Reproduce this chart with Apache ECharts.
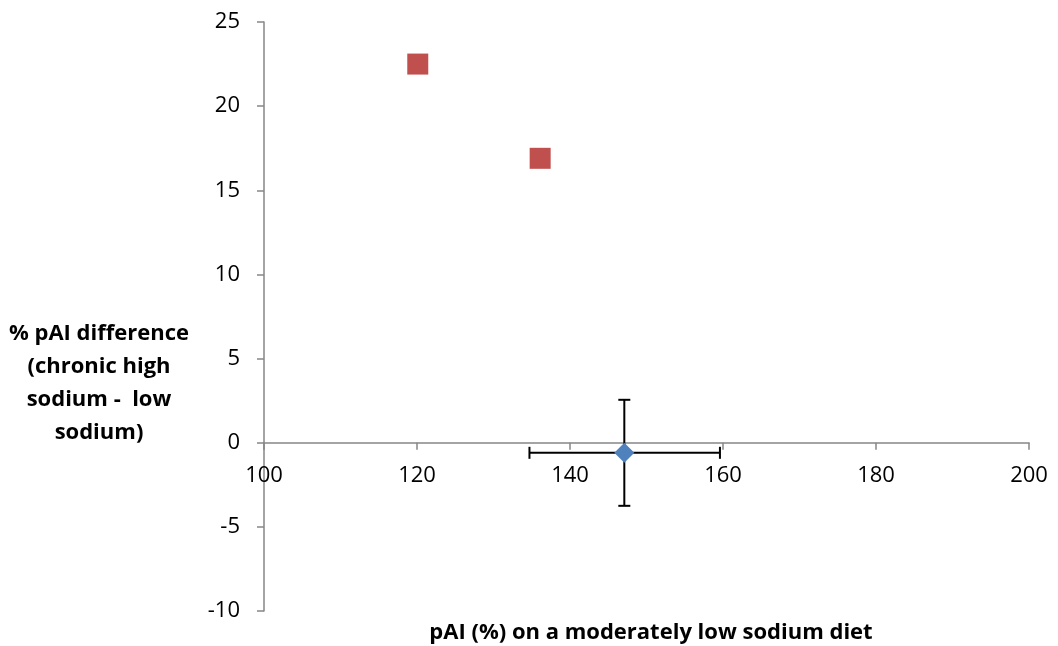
<!DOCTYPE html>
<html>
<head>
<meta charset="utf-8">
<script src="https://cdn.jsdelivr.net/npm/echarts@6/dist/echarts.min.js"></script>
<style>html,body{margin:0;padding:0;background:#fff;}#c{width:1058px;height:646px;}</style>
</head>
<body>
<div id="c"></div>
<script>
// Data
const xTicks = [100, 120, 140, 160, 180, 200];
const yTicks = [-10, -5, 0, 5, 10, 15, 20, 25];
const redX = [120.1, 136.1];
const redY = [22.5, 16.9];
const blueX = [147.1];
const blueY = [-0.6];
const blueXLow = [134.7];
const blueXHigh = [159.6];
const blueYLow = [-3.75];
const blueYHigh = [2.55];
const xTitle = 'pAI (%) on a moderately low sodium diet';
const yTitle = '% pAI difference\n(chronic high\nsodium -  low\nsodium)';

const FONT = '"Open Sans", "Liberation Sans", sans-serif';
const chart = echarts.init(document.getElementById('c'), null, {renderer: 'canvas'});

const redData = redX.map((x, i) => [x, redY[i]]);
const blueData = blueX.map((x, i) => [x, blueY[i]]);
const errData = blueX.map((x, i) => [x, blueY[i], blueXLow[i], blueXHigh[i], blueYLow[i], blueYHigh[i]]);
const xLabelData = xTicks.map(v => [v, 0]);

chart.setOption({
  animation: false,
  backgroundColor: '#fff',
  grid: {left: 264, right: 29, top: 22, bottom: 35, containLabel: false, outerBoundsMode: 'none'},
  xAxis: {
    type: 'value', min: xTicks[0], max: xTicks[xTicks.length - 1], interval: 20,
    axisLine: {show: true, onZero: true, lineStyle: {color: '#868686', width: 1.5}},
    axisTick: {show: true, inside: false, length: 7, lineStyle: {color: '#868686', width: 1.5}},
    axisLabel: {show: false},
    splitLine: {show: false}
  },
  yAxis: {
    type: 'value', min: yTicks[0], max: yTicks[yTicks.length - 1], interval: 5,
    axisLine: {show: true, onZero: false, lineStyle: {color: '#868686', width: 1.5}},
    axisTick: {show: true, inside: false, length: 7, lineStyle: {color: '#868686', width: 1.5}},
    axisLabel: {color: '#000', fontFamily: FONT, fontSize: 22, margin: 24},
    splitLine: {show: false}
  },
  graphic: [
    {type: 'text', x: 651, y: 633, style: {text: xTitle, font: 'bold 22px ' + FONT, fill: '#000', textAlign: 'center', textVerticalAlign: 'middle'}},
    {type: 'text', x: 99, y: 383, style: {text: yTitle, font: 'bold 22px ' + FONT, fill: '#000', textAlign: 'center', textVerticalAlign: 'middle', lineHeight: 33}}
  ],
  series: [
    {
      type: 'custom',
      name: 'xlabels',
      silent: true,
      z: 1,
      data: xLabelData,
      renderItem: function (params, api) {
        const p = api.coord([api.value(0), api.value(1)]);
        return {
          type: 'text',
          x: p[0], y: p[1] + 33,
          style: {text: String(api.value(0)), font: '22px ' + FONT, fill: '#000', textAlign: 'center', textVerticalAlign: 'middle'}
        };
      }
    },
    {
      type: 'custom',
      name: 'err',
      z: 3,
      data: errData,
      renderItem: function (params, api) {
        const c = api.coord([api.value(0), api.value(1)]);
        const xl = api.coord([api.value(2), api.value(1)]);
        const xh = api.coord([api.value(3), api.value(1)]);
        const yl = api.coord([api.value(0), api.value(4)]);
        const yh = api.coord([api.value(0), api.value(5)]);
        const cap = 6;
        const st = {stroke: '#000', lineWidth: 2};
        return {
          type: 'group',
          children: [
            {type: 'line', shape: {x1: xl[0], y1: c[1], x2: xh[0], y2: c[1]}, style: st},
            {type: 'line', shape: {x1: xl[0], y1: c[1] - cap, x2: xl[0], y2: c[1] + cap}, style: st},
            {type: 'line', shape: {x1: xh[0], y1: c[1] - cap, x2: xh[0], y2: c[1] + cap}, style: st},
            {type: 'line', shape: {x1: c[0], y1: yl[1], x2: c[0], y2: yh[1]}, style: st},
            {type: 'line', shape: {x1: c[0] - cap, y1: yl[1], x2: c[0] + cap, y2: yl[1]}, style: st},
            {type: 'line', shape: {x1: c[0] - cap, y1: yh[1], x2: c[0] + cap, y2: yh[1]}, style: st}
          ]
        };
      }
    },
    {
      type: 'scatter', name: 'blue', z: 4,
      symbol: 'diamond', symbolSize: 20,
      itemStyle: {color: '#4F81BD', opacity: 1},
      data: blueData
    },
    {
      type: 'scatter', name: 'red', z: 4,
      symbol: 'rect', symbolSize: 21,
      itemStyle: {color: '#C0504D', opacity: 1},
      data: redData
    }
  ]
});
</script>
</body>
</html>
